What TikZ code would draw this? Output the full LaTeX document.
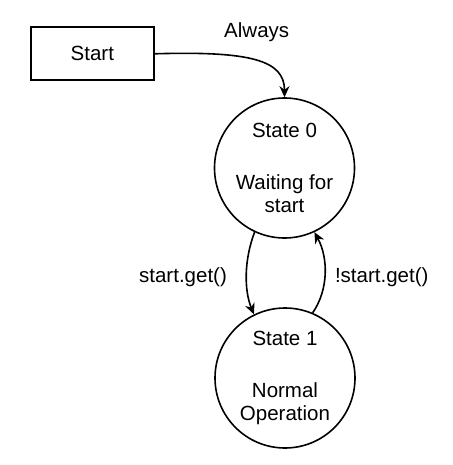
\documentclass[tikz,border=0pt]{standalone}
\usepackage{fontspec}
\setmainfont{Liberation Sans}
\usetikzlibrary{arrows.meta}
\begin{document}
\begin{tikzpicture}[x=1pt,y=-1pt,
  every node/.style={font=\fontsize{20.5}{23.3}\selectfont},
  boxnode/.style={draw, line width=1.6pt, minimum width=123pt, minimum height=53pt, inner sep=0pt},
  statenode/.style={draw, circle, line width=1.6pt, minimum size=140pt, inner sep=0pt, align=center},
  arr/.style={line width=1.6pt, -{Stealth[length=11pt,width=10pt,inset=3.5pt]}},
  lbl/.style={inner sep=0pt}]
\useasboundingbox (0,0) rectangle (452,465);
\node[boxnode] (start) at (92.3,53.8) {Start};
\node[statenode] (s0) at (284.5,168) {State 0\\[5pt]\\Waiting for\\start};
\node[statenode] (s1) at (285,378) {State 1\\[5pt]\\Normal\\Operation};
\node[lbl] (always) at (256.7,32) {Always};
\node[lbl] (lget) at (183,277) {start.get()};
\node[lbl] (rget) at (381.7,277) {!start.get()};
\draw[arr] (start.east) .. controls (250,51) and (284.5,60) .. (s0.north);
\draw[arr] (s0.245) .. controls (244,260) and (244,290) .. (s1.116);
\draw[arr] (s1.67) .. controls (328.5,290) and (328.5,258) .. (s0.295);
\end{tikzpicture}
\end{document}
